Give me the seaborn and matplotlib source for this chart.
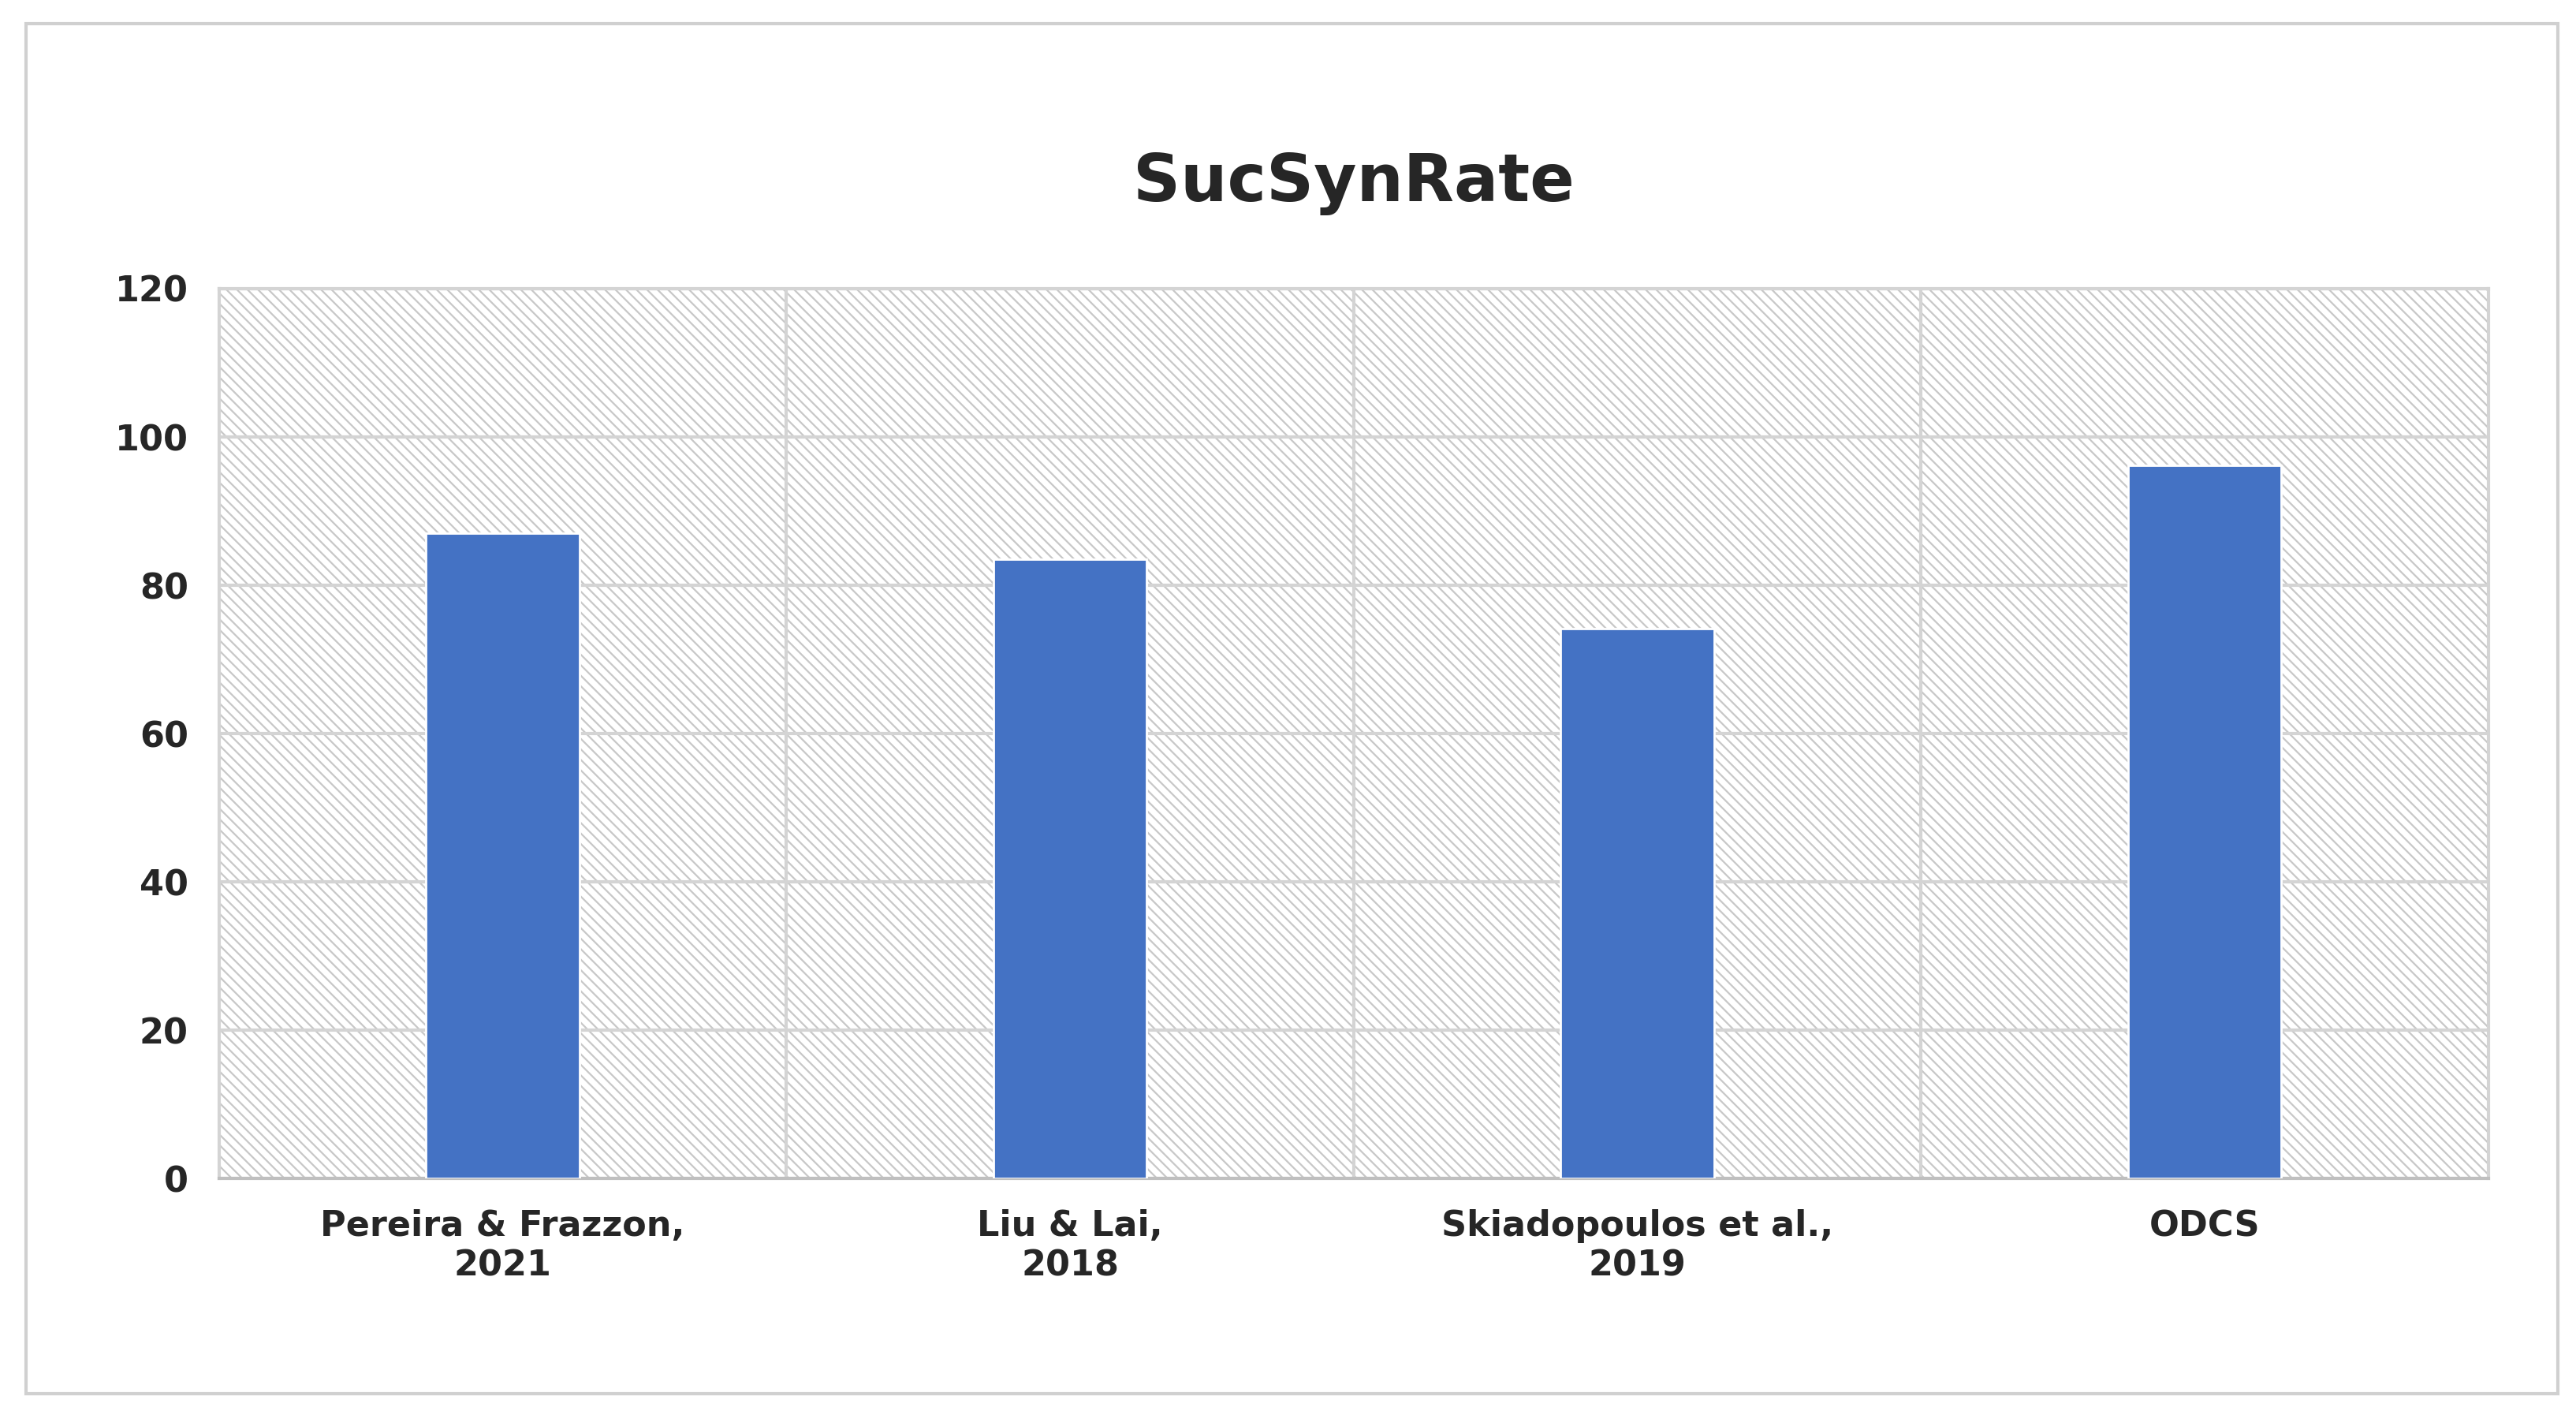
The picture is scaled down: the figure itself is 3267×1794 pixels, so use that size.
import matplotlib
matplotlib.use("Agg")
import matplotlib.pyplot as plt
import seaborn as sns
import pandas as pd
from matplotlib.patches import Rectangle

categories = ["Pereira & Frazzon,\n2021", "Liu & Lai,\n2018", "Skiadopoulos et al.,\n2019", "ODCS"]
values = [87, 83.5, 74.2, 96.2]
yticks = [0, 20, 40, 60, 80, 100, 120]

df = pd.DataFrame({"method": categories, "rate": values})

sns.set_style("white")
fig = plt.figure(figsize=(16.335, 8.97), dpi=200)
fig.patches.append(Rectangle((0.01, 0.015), 0.983, 0.968, transform=fig.transFigure,
                             fill=False, edgecolor="#d0d0d0", linewidth=1.5))
ax = fig.add_axes([0.085, 0.167, 0.881, 0.629])

# hatched background
plt.rcParams["hatch.color"] = "#c8c8c8"
plt.rcParams["hatch.linewidth"] = 0.8
ax.add_patch(Rectangle((0, 0), 1, 1, transform=ax.transAxes, facecolor="white",
                       edgecolor="#c8c8c8", hatch="\\\\\\\\\\", linewidth=0, zorder=0))

sns.barplot(data=df, x="method", y="rate", color="#4472C4", saturation=1,
            width=0.27, ax=ax, zorder=3)

ax.set_xlim(-0.5, len(categories) - 0.5)
ax.set_ylim(0, 120)
ax.set_yticks(yticks)
for y in yticks[1:]:
    ax.axhline(y, color="#d4d4d4", linewidth=1.5, zorder=1)
for x in range(1, len(categories)):
    ax.axvline(x - 0.5, color="#d4d4d4", linewidth=1.5, zorder=1)
for s in ax.spines.values():
    s.set_color("#d4d4d4")
    s.set_linewidth(1.5)
ax.spines["bottom"].set_color("#bfbfbf")

ax.set_xlabel("")
ax.set_ylabel("")
ax.tick_params(axis="both", length=0, labelsize=16, pad=14)
for lbl in ax.get_xticklabels() + ax.get_yticklabels():
    lbl.set_fontweight("bold")
ax.set_title("SucSynRate", fontsize=30, fontweight="bold", pad=40)

fig.savefig("out.png", dpi=200)
